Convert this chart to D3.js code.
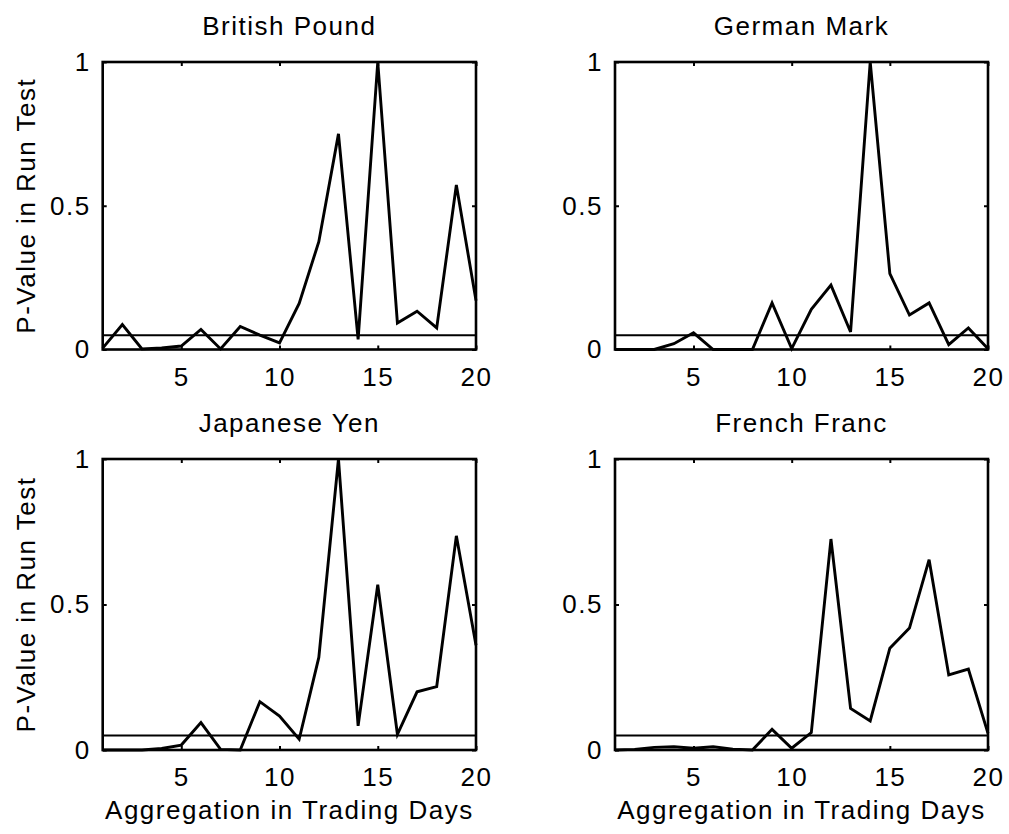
<!DOCTYPE html>
<html>
<head>
<meta charset="utf-8">
<script src="https://cdn.jsdelivr.net/npm/d3@7"></script>
<style>
  html, body { margin: 0; padding: 0; background: #fff; }
  svg { display: block; }
  text { font-family: "Liberation Sans", Arial, Helvetica, sans-serif; fill: #000; }
</style>
</head>
<body>
<svg id="chart" width="1009" height="834"></svg>
<script>
// ---- data ----
const days = [1,2,3,4,5,6,7,8,9,10,11,12,13,14,15,16,17,18,19,20];
const britishPound = [0.005,0.087,0.002,0.005,0.012,0.07,0.002,0.08,0.05,0.023,0.16,0.375,0.75,0.035,1.0,0.092,0.133,0.075,0.572,0.17];
const germanMark   = [0,0,0,0.02,0.058,0,0,0,0.162,0.003,0.14,0.224,0.061,1.0,0.264,0.12,0.162,0.017,0.075,0.003];
const japaneseYen  = [0,0,0,0.005,0.017,0.094,0.002,0,0.166,0.117,0.037,0.318,1.0,0.083,0.568,0.054,0.2,0.218,0.736,0.36];
const frenchFranc  = [0,0.002,0.009,0.011,0.006,0.011,0.003,0,0.071,0.006,0.06,0.725,0.143,0.1,0.35,0.419,0.654,0.258,0.278,0.057];
const titles = ["British Pound","German Mark","Japanese Yen","French Franc"];
const seriesList = [britishPound, germanMark, japaneseYen, frenchFranc];
const xTicks = [5,10,15,20];
const yTicks = [0,0.5,1];
const yTickLabels = ["0","0.5","1"];
const threshold = 0.05;
const yLabelText = "P-Value in Run Test";
const xLabelText = "Aggregation in Trading Days";

// ---- layout ----
const cols = [[102.7, 476], [615, 988]];
const rows = [[62, 349.5], [459, 750]];
const fontSize = 26;
const spacing = "1.5px";

const svg = d3.select("#chart");

seriesList.forEach((vals, k) => {
  const r = Math.floor(k / 2), c = k % 2;
  const [x0, x1] = cols[c];
  const [y0, y1] = rows[r];
  const x = d3.scaleLinear().domain([1, 20]).range([x0, x1]);
  const y = d3.scaleLinear().domain([0, 1]).range([y1, y0]);
  const g = svg.append("g");

  // threshold line
  g.append("line")
    .attr("x1", x(1)).attr("x2", x(20))
    .attr("y1", y(threshold)).attr("y2", y(threshold))
    .attr("stroke", "#000").attr("stroke-width", 2);

  // data line
  const line = d3.line().x((d, i) => x(days[i])).y(d => y(d));
  g.append("path").datum(vals)
    .attr("d", line)
    .attr("fill", "none")
    .attr("stroke", "#000")
    .attr("stroke-width", 2.9)
    .attr("stroke-linejoin", "miter");

  // axes
  const axB = d3.axisBottom(x).tickValues(xTicks).tickFormat(d3.format("d")).tickSize(-4).tickPadding(18);
  const axT = d3.axisTop(x).tickValues(xTicks).tickFormat("").tickSize(-4);
  const axL = d3.axisLeft(y).tickValues(yTicks).tickFormat((d, i) => yTickLabels[i]).tickSize(-4).tickPadding(12);
  const axR = d3.axisRight(y).tickValues(yTicks).tickFormat("").tickSize(-4);

  [[axB, `translate(0,${y1})`], [axT, `translate(0,${y0})`], [axL, `translate(${x0},0)`], [axR, `translate(${x1},0)`]]
    .forEach(([ax, tr]) => {
      const a = g.append("g").attr("transform", tr).call(ax);
      a.select(".domain").remove();
      a.selectAll(".tick line").attr("stroke", "#000").attr("stroke-width", 2);
      a.selectAll(".tick text")
        .attr("font-size", fontSize)
        .attr("letter-spacing", spacing)
        .attr("font-family", "Liberation Sans, Arial, sans-serif")
        .attr("fill", "#000");
    });

  // box
  g.append("rect")
    .attr("x", x0).attr("y", y0)
    .attr("width", x1 - x0).attr("height", y1 - y0)
    .attr("fill", "none").attr("stroke", "#000").attr("stroke-width", 2.6);

  // title
  g.append("text")
    .attr("x", (x0 + x1) / 2).attr("y", y0 - 27)
    .attr("text-anchor", "middle")
    .attr("font-size", fontSize)
    .attr("letter-spacing", spacing)
    .text(titles[k]);

  // y label (left column only)
  if (c === 0) {
    g.append("text")
      .attr("transform", `translate(35,${(y0 + y1) / 2}) rotate(-90)`)
      .attr("text-anchor", "middle")
      .attr("font-size", fontSize)
      .attr("letter-spacing", spacing)
      .text(yLabelText);
  }
  // x label (bottom row only)
  if (r === 1) {
    g.append("text")
      .attr("x", (x0 + x1) / 2).attr("y", y1 + 69)
      .attr("text-anchor", "middle")
      .attr("font-size", fontSize)
      .attr("letter-spacing", spacing)
      .text(xLabelText);
  }
});
</script>
</body>
</html>
